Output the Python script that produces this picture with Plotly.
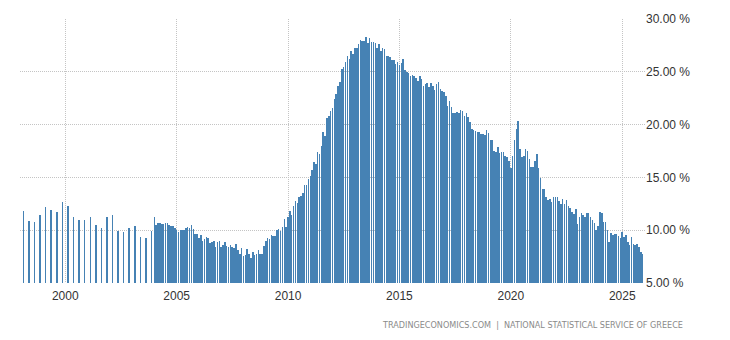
import plotly.graph_objects as go
import pandas as pd

# ---------------- data ----------------
# Quarterly unemployment rate 1998Q1 - 2003Q4 (%)
quarterly_values = [11.82, 10.87, 10.78, 11.44, 12.2, 11.91, 11.72, 12.67,
                    12.29, 11.25, 10.97, 10.97, 11.25, 10.49, 10.2, 11.25,
                    11.44, 9.92, 9.83, 10.2, 10.4, 9.36, 9.26, 9.92]
quarterly_start_year = 1998

# Monthly unemployment rate Jan 2004 - Dec 2025 (%)
monthly_values = [
    # 2004
    11.25, 10.5, 10.7, 10.7, 10.6, 10.6, 10.7, 10.7, 10.5, 10.4, 10.4, 10.2,
    # 2005
    10.0, 9.85, 10.0, 10.0, 10.0, 10.2, 10.3, 10.2, 10.5, 10.1, 9.65, 9.65,
    # 2006
    9.25, 9.55, 9.0, 9.15, 9.35, 9.25, 8.8, 8.9, 9.0, 8.4, 8.9, 9.0,
    # 2007
    8.4, 8.6, 8.9, 8.5, 8.4, 8.6, 8.4, 8.35, 8.7, 8.1, 7.75, 8.3,
    # 2008
    7.55, 7.65, 8.2, 7.75, 7.35, 7.9, 7.65, 7.75, 8.1, 7.75, 7.75, 8.5,
    # 2009
    9.0, 9.25, 9.15, 9.55, 9.45, 9.45, 10.0, 10.1, 9.9, 10.3, 11.05, 10.3,
    # 2010
    11.25, 11.8, 11.45, 12.3, 12.75, 12.6, 13.15, 13.25, 13.5, 14.3, 14.3, 14.85,
    # 2011
    15.15, 15.7, 16.45, 16.25, 17.4, 17.2, 17.95, 19.3, 18.9, 20.6, 20.8, 21.3,
    # 2012
    21.6, 22.4, 22.9, 23.65, 24.0, 25.3, 25.45, 25.9, 26.5, 26.2, 27.0, 26.7,
    # 2013
    27.25, 27.25, 27.6, 28.0, 27.9, 27.9, 28.3, 27.7, 28.2, 27.8, 27.8, 27.7,
    # 2014
    27.25, 27.6, 27.0, 27.25, 27.2, 26.5, 26.5, 26.4, 26.1, 26.1, 25.7, 25.9,
    # 2015
    25.6, 25.8, 26.2, 25.2, 25.0, 24.9, 24.6, 24.7, 24.6, 24.4, 24.1, 24.6,
    # 2016
    24.3, 23.65, 23.85, 23.9, 23.6, 23.9, 23.65, 23.3, 23.85, 24.0, 23.4, 23.2,
    # 2017
    23.1, 22.7, 21.8, 22.2, 21.7, 21.1, 21.1, 21.2, 21.1, 21.4, 21.3, 20.8,
    # 2018
    21.1, 20.7, 20.2, 19.6, 19.5, 19.4, 19.3, 19.3, 19.1, 19.1, 19.0, 19.5,
    # 2019
    19.2, 18.5, 18.5, 17.5, 17.4, 17.9, 17.3, 17.4, 17.4, 17.0, 16.9, 16.6,
    # 2020
    15.9, 17.0, 18.5, 19.6, 20.3, 17.7, 16.9, 17.0, 17.7, 17.5, 16.7, 16.0,
    # 2021
    15.95, 16.6, 17.2, 15.9, 14.9, 13.9, 13.9, 13.1, 12.9, 13.0, 12.7, 13.1,
    # 2022
    13.1, 13.1, 12.8, 12.5, 12.95, 12.5, 12.85, 12.3, 12.1, 11.7, 11.5, 12.0,
    # 2023
    10.6, 11.25, 11.6, 11.45, 11.25, 11.6, 11.6, 11.25, 10.95, 10.7, 10.0, 10.4,
    # 2024
    11.7, 11.6, 10.8, 10.8, 10.0, 8.9, 9.7, 9.55, 9.6, 9.6, 9.45, 9.3,
    # 2025
    9.8, 9.4, 9.55, 8.9, 8.6, 9.35, 8.7, 8.6, 8.7, 8.4, 7.9, 7.75,
]
monthly_start = "2004-01-01"

x_tick_years = [2000, 2005, 2010, 2015, 2020, 2025]
y_tick_values = [5, 10, 15, 20, 25, 30]
y_tick_labels = ["5.00 %", "10.00 %", "15.00 %", "20.00 %", "25.00 %", "30.00 %"]
footer_text = "TRADINGECONOMICS.COM  |  NATIONAL STATISTICAL SERVICE OF GREECE"

# ---------------- build ----------------
q_dates = []
for i in range(len(quarterly_values)):
    yr = quarterly_start_year + i // 4
    mo = 2 + 3 * (i % 4)
    q_dates.append(pd.Timestamp(year=yr, month=mo, day=15))
m_dates = list(pd.date_range(monthly_start, periods=len(monthly_values), freq="MS"))

dates = q_dates + m_dates
values = quarterly_values + monthly_values


def frac_year(y):
    base = pd.Timestamp(year=int(y), month=1, day=1)
    return base + pd.Timedelta(days=(y - int(y)) * 365.25)


# alpha just under 1 makes plotly snap bar edges to whole pixels (crisp columns)
BAR_COLOR = "rgba(70,130,180,0.999)"
GRID = "#c4c4c4"
DAY_MS = 86400000

fig = go.Figure()
fig.add_trace(go.Bar(
    x=dates, y=values,
    marker=dict(color=BAR_COLOR, line=dict(width=0)),
    width=[25 * DAY_MS] * len(values),
    hoverinfo="x+y",
))

ML, MR, MT, MB = 20, 85, 19, 57
W, H = 730, 340

fig.update_layout(
    width=W, height=H,
    margin=dict(l=ML, r=MR, t=MT, b=MB),
    paper_bgcolor="white", plot_bgcolor="white",
    showlegend=False,
    bargap=0, bargroupgap=0,
    font=dict(family="Liberation Sans, Arial, sans-serif", size=12, color="#333333"),
    xaxis=dict(
        type="date",
        range=[frac_year(1997.967), frac_year(2026.022)],
        tickvals=[pd.Timestamp(year=y, month=1, day=1) for y in x_tick_years],
        ticktext=[str(y) for y in x_tick_years],
        showgrid=True, gridcolor=GRID, griddash="1px,1px", gridwidth=1,
        showline=False, zeroline=False, ticks="",
        ticklabelstandoff=4,
        tickfont=dict(size=12, color="#333333"),
    ),
    yaxis=dict(
        side="right",
        range=[5, 30],
        tickvals=y_tick_values, ticktext=y_tick_labels,
        showgrid=True, gridcolor=GRID, griddash="1px,1px", gridwidth=1,
        showline=False, zeroline=False, ticks="",
        tickfont=dict(size=12, color="#333333"),
    ),
    annotations=[dict(
        text=footer_text,
        xref="paper", yref="paper",
        x=(685 - ML) / (W - ML - MR), y=-(325 - (H - MB)) / (H - MT - MB),
        xanchor="right", yanchor="middle",
        showarrow=False,
        font=dict(family="DejaVu Sans, Verdana, sans-serif", size=8.1, color="#8a8a8a"),
    )],
)

fig.write_html("out.html")
